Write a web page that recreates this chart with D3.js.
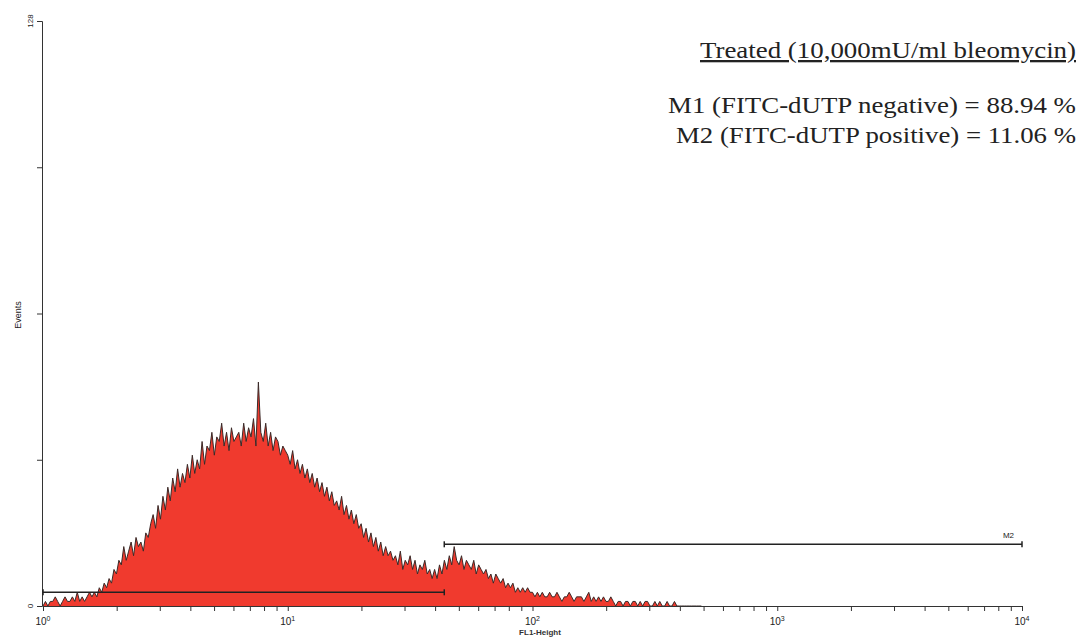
<!DOCTYPE html><html><head><meta charset="utf-8">
<script src="https://cdn.jsdelivr.net/npm/d3@7"></script>
<style>body{margin:0;background:#fff}</style></head><body>
<svg id="c" width="1082" height="639"></svg>
<script>
const logStep = 0.01;
const counts = [
0,1,0,1,1,2,1,0,1,2,1,1,2,1,3,1,2,1,2,3,
2,3,2,4,3,5,4,6,5,8,7,10,9,13,10,12,14,11,15,13,
14,12,16,15,18,20,17,22,19,24,21,26,23,28,25,30,26,29,27,31,
28,33,29,32,30,36,31,35,34,38,33,37,36,40,35,38,34,39,36,37,
38,35,40,36,39,37,41,35,49,38,36,40,35,38,34,37,36,33,35,34,
33,31,34,30,32,29,31,28,30,27,29,26,28,25,27,24,26,23,25,22,
23,21,24,20,22,19,21,18,20,17,18,15,17,14,16,13,15,12,14,11,
13,11,12,10,11,9,12,8,10,9,11,8,10,7,9,8,10,7,8,6,
8,6,9,7,10,8,11,9,13,10,9,11,8,10,9,8,10,7,9,8,
7,8,6,7,5,7,6,5,6,4,5,4,5,3,4,3,4,3,4,3,
3,2,3,2,3,2,2,3,2,2,3,2,1,2,2,3,2,1,2,2,
2,1,2,3,1,2,1,2,1,2,1,1,2,1,0,1,1,0,1,1,
0,1,1,0,1,0,1,1,0,0,1,0,1,0,0,1,0,0,1,0,
0,0,0,0,0,0,0,0,0,0
];
const markers = [{name:"M1", from:1, to:43.6, level:3},{name:"M2", from:43.6, to:10000, level:13.5}];
const yTicks = [0,32,64,96,128];
const title = "Treated (10,000mU/ml bleomycin)";
const stats = ["M1 (FITC-dUTP negative) = 88.94 %","M2 (FITC-dUTP positive) = 11.06 %"];

const svg = d3.select("#c");
const x = d3.scaleLog().domain([1,10000]).range([43,1022]);
const y = d3.scaleLinear().domain([0,128]).range([606,21]);
const pts = counts.map((c,i)=>[Math.pow(10,i*logStep),c]);
svg.append("path").datum(pts)
  .attr("d", d3.area().x(d=>x(d[0])).y0(y(0)).y1(d=>y(d[1])))
  .attr("fill","#f03a2e");
svg.append("path").datum(pts)
  .attr("d", d3.line().x(d=>x(d[0])).y(d=>y(d[1])))
  .attr("fill","none").attr("stroke","#3a2a28").attr("stroke-width",1);
const xa = svg.append("g").attr("transform","translate(0,606)")
  .call(d3.axisBottom(x).tickValues(d3.range(0,4).flatMap(p=>d3.range(1,10).map(k=>k*Math.pow(10,p))).concat([10000])).tickSize(5).tickFormat(""));
xa.select(".domain").attr("stroke","#333");
xa.selectAll(".tick line").attr("stroke","#333");
[0,1,2,3,4].forEach(p=>{
  const t = svg.append("text").attr("x",x(Math.pow(10,p))).attr("y",625).attr("text-anchor","middle")
    .attr("font-family","Arial").attr("font-size",10).attr("fill","#222");
  t.append("tspan").text("10");
  t.append("tspan").attr("dy",-4).attr("font-size",7).text(p);
});
svg.append("text").attr("x",540).attr("y",635).attr("text-anchor","middle").attr("font-family","Arial").attr("font-size",8).attr("font-weight","bold").attr("fill","#333").text("FL1-Height");
const ya = svg.append("g").attr("transform","translate(42,0)").call(d3.axisLeft(y).tickValues(yTicks).tickSize(5).tickFormat(""));
ya.select(".domain").attr("stroke","#333");
ya.selectAll(".tick line").attr("stroke","#333");
[0,128].forEach(v=>svg.append("text").attr("transform",`translate(33,${y(v)}) rotate(-90)`).attr("text-anchor","middle")
  .attr("font-family","Arial").attr("font-size",8).attr("fill","#222").text(v));
svg.append("text").attr("transform","translate(21,315) rotate(-90)").attr("text-anchor","middle")
  .attr("font-family","Arial").attr("font-size",9).attr("fill","#222").text("Events");
markers.forEach(m=>{
  const g = svg.append("g").attr("stroke","#222").attr("stroke-width",1.5);
  g.append("line").attr("x1",x(m.from)).attr("x2",x(m.to)).attr("y1",y(m.level)).attr("y2",y(m.level));
  [m.from,m.to].forEach(v=>g.append("line").attr("x1",x(v)).attr("x2",x(v)).attr("y1",y(m.level)-3).attr("y2",y(m.level)+3));
  if(m.name==="M2") svg.append("text").attr("x",x(m.to)-8).attr("y",y(m.level)-6).attr("text-anchor","end")
    .attr("font-family","Arial").attr("font-size",8).attr("fill","#222").text(m.name);
});
svg.append("text").attr("x",1076).attr("y",58).attr("text-anchor","end").attr("font-family","Liberation Serif")
  .attr("font-size",23).attr("fill","#222").attr("text-decoration","underline")
  .attr("textLength",376).attr("lengthAdjust","spacingAndGlyphs").text(title);
const widths=[408,400];
stats.forEach((s,i)=>svg.append("text").attr("x",1076).attr("y",113+i*30).attr("text-anchor","end")
  .attr("font-family","Liberation Serif").attr("font-size",23).attr("fill","#222")
  .attr("textLength",widths[i]).attr("lengthAdjust","spacingAndGlyphs").text(s));
</script></body></html>
